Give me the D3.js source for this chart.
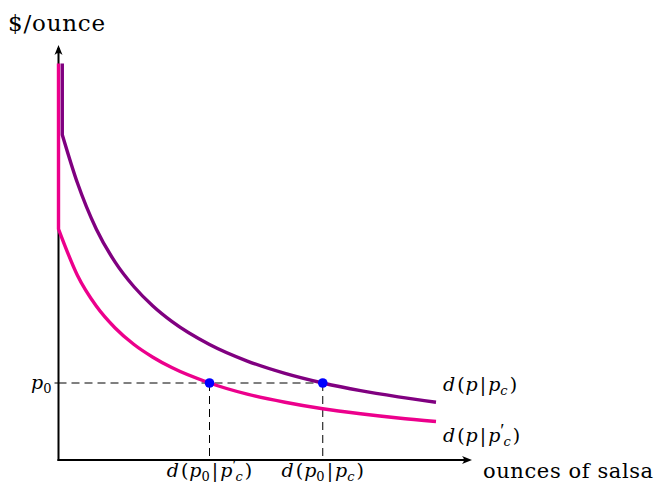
<!DOCTYPE html>
<html>
<head>
<meta charset="utf-8">
<script src="https://cdn.jsdelivr.net/npm/d3@7"></script>
<style>
  html, body { margin: 0; padding: 0; background: #fff; }
  svg text { font-family: "DejaVu Serif", "Liberation Serif", serif; fill: #000; }
</style>
</head>
<body>
<svg id="chart" width="657" height="489"></svg>
<script>
// Quantity (ounces) sample points and the two demand curves' prices
const quantity = [0, 0.5, 1, 1.5, 2, 2.5, 3, 4, 5, 6, 7, 8, 9, 10];
const demandOriginal = [8.45, 7.2, 6, 5.14, 4.5, 4, 3.6, 3, 2.57, 2.25, 2, 1.8, 1.64, 1.5]; // d(p|p_c)
const demandShifted = [6, 4.8, 4, 3.43, 3, 2.67, 2.4, 2, 1.71, 1.5, 1.33, 1.2, 1.09, 1];   // d(p|p'_c)
const priceTop = 10.3;     // both curves rise vertically to this price
const startOriginal = 0.1; // quantity where d(p|p_c) leaves the vertical
const p0 = 2;
const qShifted = 4;        // d(p0|p'_c)
const qOriginal = 7;       // d(p0|p_c)

const svg = d3.select("#chart");
const x = d3.scaleLinear().domain([0, 10]).range([58.5, 436]);
const y = d3.scaleLinear().domain([0, 10]).range([460, 75]);

const xAxisEnd = 472, yAxisEnd = 45;

// Dashed guides at p0
const guides = svg.append("g").attr("stroke", "#000").attr("stroke-width", 1)
  .attr("stroke-dasharray", "8,5").attr("fill", "none");
guides.append("line").attr("x1", x(0)).attr("x2", x(qOriginal)).attr("y1", y(p0)).attr("y2", y(p0));
[qShifted, qOriginal].forEach(q => {
  guides.append("line").attr("x1", x(q)).attr("x2", x(q)).attr("y1", y(p0)).attr("y2", y(0));
});

// Axes
const axes = svg.append("g").attr("stroke", "#000").attr("stroke-width", 2).attr("fill", "none");
axes.append("line").attr("x1", x(0)).attr("y1", y(0) + 1).attr("x2", x(0)).attr("y2", yAxisEnd + 3);
axes.append("line").attr("x1", x(0) - 1).attr("y1", y(0)).attr("x2", xAxisEnd - 3).attr("y2", y(0));
// tick at p0
svg.append("line").attr("x1", x(0) - 4).attr("x2", x(0)).attr("y1", y(p0)).attr("y2", y(p0))
  .attr("stroke", "#000").attr("stroke-width", 1);

// Arrowheads
svg.append("path")
  .attr("d", `M${x(0)},${yAxisEnd} L${x(0) - 4},${yAxisEnd + 10} Q${x(0)},${yAxisEnd + 6} ${x(0) + 4},${yAxisEnd + 10} Z`)
  .attr("fill", "#000");
svg.append("path")
  .attr("d", `M${xAxisEnd},${y(0)} L${xAxisEnd - 10},${y(0) - 4} Q${xAxisEnd - 6},${y(0)} ${xAxisEnd - 10},${y(0) + 4} Z`)
  .attr("fill", "#000");

// Demand curves
const line = d3.line().x(d => x(d[0])).y(d => y(d[1])).curve(d3.curveMonotoneX);
const vertical = (q0, p) => `M${x(q0)},${y(priceTop)}L${x(q0)},${y(p)}`;

const shiftedPts = quantity.map((q, i) => [q, demandShifted[i]]);
const originalPts = quantity.map((q, i) => [i === 0 ? startOriginal : q, demandOriginal[i]]);

svg.append("path").attr("d", vertical(0, demandShifted[0]) + line(shiftedPts).replace(/^M/, "L"))
  .attr("fill", "none").attr("stroke", "#ec008c").attr("stroke-width", 3.4).attr("stroke-linejoin", "round");
svg.append("path").attr("d", vertical(startOriginal, demandOriginal[0]) + line(originalPts).replace(/^M/, "L"))
  .attr("fill", "none").attr("stroke", "#800080").attr("stroke-width", 3.4).attr("stroke-linejoin", "round");

// Equilibrium points
svg.selectAll("circle.pt").data([qShifted, qOriginal]).join("circle")
  .attr("class", "pt").attr("cx", d => x(d)).attr("cy", y(p0)).attr("r", 4.8).attr("fill", "#0000ff");

// Axis titles
svg.append("text").attr("x", 8).attr("y", 31).attr("font-size", 23).attr("letter-spacing", 0.8).text("$/ounce");
svg.append("text").attr("x", 483).attr("y", 478).attr("font-size", 21).attr("letter-spacing", 0.6).text("ounces of salsa");

// Math labels: each piece carries its own baseline offset, size and spacing
function mathLabel(xPos, yPos, parts, anchor) {
  const t = svg.append("text").attr("x", xPos).attr("y", yPos).attr("font-size", 19)
    .attr("font-style", "italic").attr("text-anchor", anchor || "start");
  let cur = 0;
  parts.forEach(p => {
    const off = p.off || 0;
    const s = t.append("tspan").text(p.t).attr("dy", off - cur);
    cur = off;
    if (p.size) s.attr("font-size", p.size);
    if (p.dx) s.attr("dx", p.dx);
    if (p.roman) s.attr("font-style", "normal");
    if (p.family) s.style("font-family", p.family);
  });
  return t;
}

const pc = [{t: "p", dx: 2}, {t: "c", off: 4, size: 13}];
const pcPrime = [{t: "p", dx: 2}, {t: "′", off: -5, size: 19, roman: true, family: "Liberation Serif"},
  {t: "c", off: 4, size: 13, dx: -1}];
const open = [{t: "d"}, {t: "(", roman: true, dx: 2}];
const close = [{t: ")", roman: true, dx: 2}];
const bar = [{t: "|", roman: true, dx: 2}];

mathLabel(31, 389, [{t: "p"}, {t: "0", off: 4, size: 13, roman: true}]);

mathLabel(443, 391, [...open, {t: "p", dx: 1}, ...bar, ...pc, ...close]);
mathLabel(443, 442, [...open, {t: "p", dx: 1}, ...bar, ...pcPrime, ...close]);

mathLabel(x(qShifted), 477, [...open, {t: "p", dx: 1}, {t: "0", off: 4, size: 13, roman: true},
  ...bar, ...pcPrime, ...close], "middle");
mathLabel(x(qOriginal), 477, [...open, {t: "p", dx: 1}, {t: "0", off: 4, size: 13, roman: true},
  ...bar, ...pc, ...close], "middle");
</script>
</body>
</html>
